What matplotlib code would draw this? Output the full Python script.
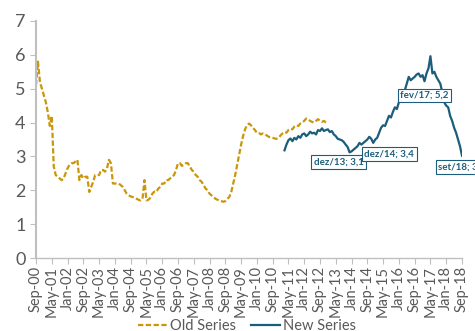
import numpy as np
import matplotlib
matplotlib.use("Agg")
import matplotlib.pyplot as plt
from matplotlib import rcParams

rcParams["font.family"] = ["Lato", "DejaVu Sans"]

gold = "#C9960C"
blue = "#1B5E7B"
grey = "#595959"

# month index 0 = Sep-00
old_start = 0
old_series = [
    5.1, 5.8, 5.2, 5.0, 4.8, 4.6, 4.3, 3.9, 4.2, 2.7,
    2.45, 2.4, 2.35, 2.3, 2.35, 2.5, 2.65, 2.75, 2.8, 2.8,
    2.85, 2.9, 2.3, 2.45, 2.35, 2.4, 2.4, 1.95, 2.1, 2.25,
    2.45, 2.45, 2.45, 2.6, 2.6, 2.55, 2.65, 2.9, 2.8, 2.2,
    2.2, 2.2, 2.2, 2.15, 2.1, 2.0, 1.9, 1.85, 1.82, 1.8,
    1.78, 1.75, 1.72, 1.7, 1.75, 2.3, 1.7, 1.72, 1.78, 1.9,
    1.96, 1.95, 2.05, 2.1, 2.2, 2.2, 2.3, 2.3, 2.35, 2.4,
    2.45, 2.6, 2.8, 2.8, 2.72, 2.76, 2.8, 2.8, 2.7, 2.6,
    2.55, 2.45, 2.4, 2.3, 2.25, 2.15, 2.05, 2.0, 1.9, 1.85,
    1.8, 1.75, 1.72, 1.7, 1.68, 1.66, 1.68, 1.75, 1.8, 1.95,
    2.2, 2.45, 2.75, 3.05, 3.35, 3.6, 3.8, 3.92, 3.97, 3.92,
    3.85, 3.78, 3.7, 3.7, 3.65, 3.68, 3.66, 3.62, 3.58, 3.56,
    3.55, 3.53, 3.52, 3.55, 3.62, 3.68, 3.72, 3.7, 3.78, 3.82,
    3.8, 3.88, 3.92, 3.9, 3.97, 4.0, 4.05, 4.12, 4.1, 4.05,
    4.02, 4.0, 4.05, 4.1, 4.05, 4.02, 4.05, 4.0,
]

new_start = 126  # Mar-11
new_series = [
    3.18, 3.35, 3.48, 3.53, 3.45, 3.55, 3.5, 3.6, 3.55, 3.65,
    3.68, 3.6, 3.65, 3.73, 3.68, 3.7, 3.65, 3.78, 3.75, 3.83,
    3.75, 3.78, 3.8, 3.72, 3.75, 3.65, 3.6, 3.52, 3.5, 3.48,
    3.43, 3.35, 3.28, 3.12, 3.15, 3.2, 3.25, 3.3, 3.4, 3.35,
    3.4, 3.45, 3.5, 3.58, 3.52, 3.4, 3.5, 3.55, 3.7, 3.85,
    3.92, 3.9, 4.05, 4.2, 4.15, 4.32, 4.45, 4.4, 4.6, 4.7,
    4.85, 4.95, 5.15, 5.35, 5.25, 5.3, 5.35, 5.42, 5.45, 5.35,
    5.4, 5.22, 5.45, 5.6, 5.96, 5.45, 5.5, 5.35, 5.25, 5.15,
    4.9, 4.6, 4.5, 4.45, 4.2, 4.05, 3.85, 3.7, 3.5, 3.3,
    3.02,
]

tick_labels = ["Sep-00", "May-01", "Jan-02", "Sep-02", "May-03", "Jan-04",
               "Sep-04", "May-05", "Jan-06", "Sep-06", "May-07", "Jan-08",
               "Sep-08", "May-09", "Jan-10", "Sep-10", "May-11", "Jan-12",
               "Sep-12", "May-13", "Jan-14", "Sep-14", "May-15", "Jan-16",
               "Sep-16", "May-17", "Jan-18", "Sep-18"]

# data labels: (month index, text, offset in points)
callouts = [
    (159, "dez/13; 3,1", (-8, -3.5)),
    (171, "dez/14; 3,4", (11.5, -5)),
    (197, "fev/17; 5,2", (0, -7)),
    (216, "set/18; 3,0", (0, -5)),
]

x_old = np.arange(len(old_series)) + old_start
x_new = np.arange(len(new_series)) + new_start

fig = plt.figure(figsize=(4.75, 3.31), dpi=100)
ax = fig.add_axes([0.0758, 0.2205, 0.8968, 0.7161])

ax.plot(x_old, old_series, color=gold, linewidth=1.6, dashes=(2.4, 1.1),
        label="Old Series")
ax.plot(x_new, new_series, color=blue, linewidth=1.6, label="New Series")

for m, txt, off in callouts:
    ax.annotate(txt, xy=(m, new_series[m - new_start]), xytext=off,
                textcoords="offset points", ha="center", va="top",
                fontsize=7, fontweight="bold", color=blue,
                bbox=dict(boxstyle="square,pad=0.25", fc="white",
                          ec=blue, lw=0.8),
                annotation_clip=False)

ax.set_xlim(0, 216)
ax.set_ylim(0, 7)
ax.set_xticks(np.arange(0, 217, 8))
ax.set_xticklabels(tick_labels, rotation=90, fontsize=10.5, color=grey)
ax.set_yticks(range(8))
ax.tick_params(axis="y", labelsize=13, colors=grey, length=4, color="#BFBFBF")
ax.tick_params(axis="x", length=4, color="#BFBFBF", pad=2)

for s in ["top", "right"]:
    ax.spines[s].set_visible(False)
ax.spines["left"].set_color("#BFBFBF")
ax.spines["left"].set_linewidth(1.5)
ax.spines["bottom"].set_color("#BFBFBF")
ax.spines["bottom"].set_linewidth(1.0)

fig.legend(loc="center", bbox_to_anchor=(0.52, 0.014), ncol=2, frameon=False,
           fontsize=10.5, handlelength=2.0, columnspacing=1.0,
           labelcolor=grey, handletextpad=0.2)

fig.savefig("out.png", dpi=100)
